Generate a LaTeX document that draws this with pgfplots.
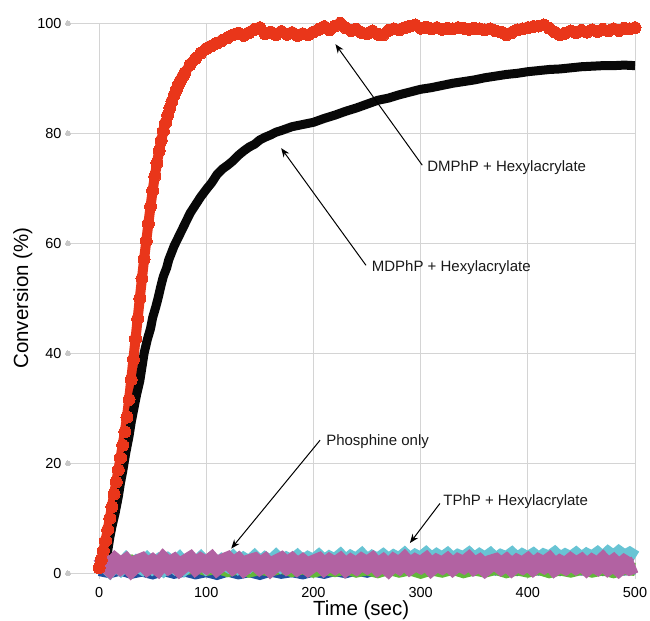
\documentclass[border=0pt]{standalone}
\usepackage{fontspec}
\setmainfont{Liberation Sans}
\usepackage{pgfplots}
\pgfplotsset{compat=1.18}
\usetikzlibrary{arrows.meta}
\definecolor{cred}{RGB}{233,54,26}
\definecolor{cblack}{RGB}{8,8,8}
\definecolor{cmag}{RGB}{178,98,162}
\definecolor{ccyan}{RGB}{104,196,212}
\definecolor{cgreen}{RGB}{98,184,58}
\definecolor{cblue}{RGB}{32,80,160}
\definecolor{gridgray}{RGB}{212,212,212}
\definecolor{dotgray}{RGB}{200,200,200}
\begin{document}
\begin{tikzpicture}
\useasboundingbox (-68bp,-42.2bp) rectangle (582bp,578.8bp);
\begin{axis}[
  at={(0,0)}, anchor=south west,
  width=567bp, height=555.5bp, scale only axis,
  xmin=-29, xmax=500, ymin=-1, ymax=100,
  axis line style={draw=none},
  xtick={0,100,...,500}, ytick={0,20,...,100},
  grid=major, major grid style={color=gridgray, line width=0.9bp},
  tick style={draw=none},
  /pgf/number format/assume math mode=true,
  ticklabel style={font=\fontsize{14.5bp}{17bp}\selectfont, inner sep=0pt},
  yticklabel style={anchor=east, xshift=-6.3bp},
  xticklabel style={anchor=north, yshift=-8.5bp},
  xlabel={Time (sec)},
  ylabel={Conversion (\%)},
  label style={font=\fontsize{20.5bp}{24bp}\selectfont},
  xlabel style={at={(axis description cs:0.517,-0.0666)}, anchor=base},
  ylabel style={at={(axis description cs:-0.0705,0.5055)}, anchor=base},
  clip=false,
]
% grey tick dots
\addplot[only marks, mark=*, mark size=2.5bp, color=dotgray, mark options={line width=0pt}] coordinates {(-29,0)(-29,20)(-29,40)(-29,60)(-29,80)(-29,100)};

% DMPhP + Hexylacrylate (red)
\addplot[cred, line width=10bp, line join=round, mark=*, mark size=6bp, mark options={cred, line width=0pt}] coordinates {
(0,1.0)(2,2.4)(4,4.1)(6,5.9)(8,7.9)(10,10.0)(12,12.1)(14,14.4)(16,16.6)(18,18.8)(20,21.0)
(22,23.3)(24,25.7)(26,28.4)(28,31.6)(30,35.2)(32,38.9)(34,42.6)(36,46.3)(38,50.0)(40,53.6)
(42,57.1)(44,60.4)(46,63.6)(48,66.7)(50,69.6)(52,72.2)(54,74.6)(56,76.8)(58,78.7)(60,80.4)
(62,81.9)(64,83.3)(66,84.6)(68,85.8)(70,86.9)(72,87.9)(74,88.8)(76,89.6)(78,90.3)(80,91.0)
(85,92.5)(90,93.6)(95,94.6)
(100,95.4)(105,95.9)(110,96.4)(115,96.9)(120,97.4)(125,97.9)(130,98.2)(135,97.8)(140,98.3)(145,98.9)
(150,99.2)(155,98.1)(160,98.4)(165,97.9)(170,98.5)(175,98.0)(180,98.3)(185,97.8)(190,98.1)(195,97.9)
(200,98.4)(205,98.9)(210,99.4)(215,98.8)(220,99.5)(225,100.0)(230,99.2)(235,98.7)(240,98.9)(245,98.3)
(250,98.1)(255,98.6)(260,98.0)(265,97.9)(270,98.7)(275,99.0)(280,98.8)(285,99.2)(290,99.5)(295,99.7)
(300,99.1)(305,99.3)(310,99.0)(315,99.2)(320,98.9)(325,99.1)(330,99.0)(335,99.2)(340,99.1)(345,98.9)
(350,99.1)(355,99.0)(360,98.8)(365,99.0)(370,98.6)(375,98.4)(380,97.9)(385,98.3)(390,98.8)(395,99.0)
(400,99.2)(405,99.4)(410,99.5)(415,99.7)(420,99.1)(425,98.4)(430,97.9)(435,98.2)(440,98.6)(445,98.3)
(450,98.7)(455,98.4)(460,98.8)(465,98.5)(470,98.9)(475,98.6)(480,99.0)(485,98.7)(490,99.1)(495,99.0)
(500,99.2)};

% MDPhP + Hexylacrylate (black)
\addplot[cblack, line width=9bp, line join=miter] coordinates {
(3,0.5)(5,1.5)(8,4)(10,6.5)(12,8.5)(15,11)(18,14)(20,16.5)(22,18.5)(25,22)(28,25)(30,27.5)
(33,30.5)(35,32.5)(38,35)(40,37.5)(42,40)(45,42.5)(48,44.5)(50,46.5)(53,48.5)(55,50)(58,52.5)
(60,54)(63,55.5)(65,57)(68,58.5)(70,59.5)(75,61.5)(80,63.5)(85,65.5)(90,67)(95,68.5)(100,69.8)
(105,71)(110,72.5)(115,73.5)(120,74.2)(125,75)(130,76)(135,76.8)(140,77.5)(145,78)(150,78.8)
(155,79.3)(160,79.7)(165,80.2)(170,80.5)(180,81.2)(190,81.6)(200,82)(210,82.7)(220,83.3)(230,84)
(240,84.6)(250,85.3)(260,86)(270,86.4)(280,87)(290,87.5)(300,88)(310,88.3)(320,88.7)(330,89.1)
(340,89.4)(350,89.7)(360,90.1)(370,90.4)(380,90.7)(390,90.9)(400,91.2)(410,91.4)(420,91.6)
(430,91.7)(440,91.9)(450,92.1)(460,92.2)(470,92.3)(480,92.3)(490,92.4)(500,92.3)};

% dark blue
\addplot[cblue, line width=11bp, line join=miter, miter limit=3] coordinates {
(0,0.5)(10,0.1)(20,0.6)(30,0.0)(40,0.4)(50,-0.1)(60,0.5)(70,0.0)(80,0.4)(90,-0.1)
(100,0.3)(110,-0.2)(120,0.4)(130,-0.1)(140,0.3)(150,-0.2)(160,0.4)(170,0.0)(180,0.3)(190,-0.1)
(200,0.4)(210,0.0)(220,0.5)(230,0.1)(240,0.6)(250,0.2)(260,0.7)(270,0.4)(280,0.8)(290,0.5)
(300,0.8)(310,0.5)(320,0.9)(330,0.6)(340,0.8)(350,0.5)(360,0.9)(370,0.6)(380,0.8)(390,0.5)
(400,0.9)(410,0.6)(420,0.8)(430,0.5)(440,0.9)(450,0.6)(460,0.8)(470,0.5)(480,0.9)(490,0.6)(500,0.8)};

% green
\addplot[cgreen, line width=13bp, line join=miter, miter limit=3] coordinates {
(0,1.5)(10,2.1)(20,1.8)(30,2.2)(40,1.2)(50,1.5)(60,0.9)(70,1.3)(80,0.8)(90,1.2)
(100,0.7)(110,1.1)(120,0.5)(130,1.0)(140,0.4)(150,0.9)(160,0.6)(170,1.1)(180,0.5)(190,1.0)
(200,0.4)(210,0.9)(220,0.5)(230,1.0)(240,0.4)(250,0.8)(260,0.3)(270,0.9)(280,0.4)(290,0.8)
(300,0.2)(310,0.8)(320,0.4)(330,0.9)(340,0.3)(350,0.8)(360,0.4)(370,0.9)(380,0.3)(390,0.8)
(400,0.4)(410,0.9)(420,0.3)(430,0.8)(440,0.4)(450,0.9)(460,0.4)(470,0.8)(480,0.3)(490,0.9)(500,0.7)};

% cyan (TPhP + Hexylacrylate)
\addplot[ccyan, line width=16bp, line join=miter, miter limit=3] coordinates {
(0,1.0)(5,1.7)(10,0.8)(15,1.9)(20,1.1)(25,2.1)(30,1.0)(35,1.8)(40,1.2)(45,2.2)
(50,1.3)(55,2.0)(60,1.1)(65,2.1)(70,1.4)(75,2.3)(80,1.2)(85,2.0)(90,1.5)(95,2.4)
(100,1.4)(105,2.2)(110,1.3)(115,2.1)(120,1.6)(125,2.5)(130,1.5)(135,2.3)(140,1.7)(145,2.6)
(150,1.6)(155,2.4)(160,1.8)(165,2.7)(170,1.7)(175,2.4)(180,1.9)(185,2.7)(190,1.8)(195,2.5)
(200,2.0)(205,2.8)(210,1.9)(215,2.6)(220,2.1)(225,2.9)(230,1.9)(235,2.7)(240,2.2)(245,3.0)
(250,2.0)(255,2.7)(260,2.2)(265,2.9)(270,2.1)(275,2.8)(280,2.3)(285,3.1)(290,2.2)(295,2.9)
(300,2.4)(305,3.2)(310,2.3)(315,3.0)(320,2.4)(325,3.1)(330,2.2)(335,2.9)(340,2.5)(345,3.2)
(350,2.3)(355,3.0)(360,2.4)(365,3.1)(370,2.2)(375,2.9)(380,2.5)(385,3.2)(390,2.3)(395,3.0)
(400,2.5)(405,3.1)(410,2.3)(415,3.0)(420,2.6)(425,3.3)(430,2.4)(435,3.0)(440,2.5)(445,3.2)
(450,2.4)(455,3.1)(460,2.6)(465,3.3)(470,2.5)(475,3.4)(480,2.7)(485,3.5)(490,2.8)(495,3.3)(500,2.7)};

% magenta (Phosphine only)
\addplot[cmag, line width=17bp, line join=miter, miter limit=3] coordinates {
(0,1.1)(5,1.9)(10,1.0)(15,2.1)(20,1.3)(25,2.0)(30,0.9)(35,1.8)(40,2.2)(45,1.2)
(50,1.9)(55,1.1)(60,2.3)(65,1.4)(70,2.0)(75,1.0)(80,1.8)(85,2.4)(90,1.3)(95,2.1)
(100,1.5)(105,2.3)(110,1.2)(115,2.0)(120,2.4)(125,1.4)(130,2.1)(135,1.1)(140,1.9)(145,2.2)
(150,1.3)(155,2.0)(160,1.0)(165,1.8)(170,2.3)(175,1.4)(180,2.1)(185,1.2)(190,1.9)(195,1.1)
(200,1.8)(205,2.2)(210,1.2)(215,2.0)(220,1.4)(225,2.1)(230,1.1)(235,1.9)(240,1.3)(245,2.1)
(250,1.5)(255,2.2)(260,1.2)(265,1.9)(270,1.0)(275,2.0)(280,1.4)(285,2.3)(290,1.3)(295,2.0)
(300,1.5)(305,2.2)(310,1.1)(315,1.9)(320,1.4)(325,2.1)(330,1.2)(335,2.0)(340,1.5)(345,2.3)
(350,1.3)(355,1.9)(360,1.0)(365,1.8)(370,2.1)(375,1.3)(380,2.0)(385,1.1)(390,1.9)(395,1.4)
(400,2.1)(405,1.2)(410,2.0)(415,1.5)(420,2.2)(425,1.1)(430,1.8)(435,1.3)(440,2.1)(445,1.4)
(450,2.0)(455,1.1)(460,1.9)(465,1.3)(470,2.2)(475,1.2)(480,1.9)(485,1.0)(490,1.8)(495,1.2)(500,1.6)};

% annotations
\tikzset{ann/.style={anchor=west, inner sep=0pt, font=\fontsize{15bp}{18bp}\selectfont, text=black!90},
         arr/.style={-{Stealth[length=9bp,width=7bp]}, line width=1bp, black}}
\draw[arr] (axis cs:301.5,74.2) -- (axis cs:220.5,96.2);
\node[ann] at (axis cs:306,73.7) {DMPhP + Hexylacrylate};
\draw[arr] (axis cs:249,56) -- (axis cs:169.9,77.3);
\node[ann] at (axis cs:254.3,55.5) {MDPhP + Hexylacrylate};
\draw[arr] (axis cs:206.2,24.2) -- (axis cs:123.3,4.5);
\node[ann] at (axis cs:211.8,23.9) {Phosphine only};
\draw[arr] (axis cs:318,12.7) -- (axis cs:290,5.5);
\node[ann] at (axis cs:321,13) {TPhP + Hexylacrylate};
\end{axis}
\end{tikzpicture}
\end{document}
